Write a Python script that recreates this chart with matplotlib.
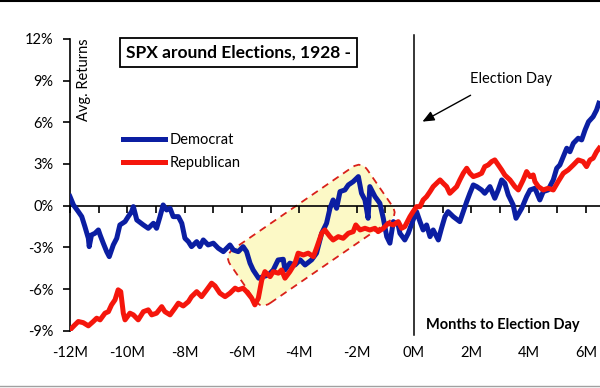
import matplotlib
matplotlib.use("Agg")
import matplotlib.pyplot as plt
import numpy as np
from matplotlib.lines import Line2D
from matplotlib.patches import FancyBboxPatch
from matplotlib.ticker import MultipleLocator
from matplotlib.transforms import Affine2D

plt.rcParams["font.family"] = ["Lato", "DejaVu Sans"]

# average SPX path (%), months relative to election day
dem_months = [
    -12.00, -11.88, -11.71, -11.59, -11.48, -11.36, -11.33, -11.25, -11.13, -11.01,
    -10.95, -10.84, -10.72, -10.63, -10.49, -10.37, -10.26, -10.08, -9.97, -9.85,
    -9.79, -9.67, -9.44, -9.27, -9.09, -8.98, -8.86, -8.75, -8.63, -8.51,
    -8.40, -8.22, -8.10, -7.99, -7.87, -7.76, -7.58, -7.47, -7.35, -7.18,
    -7.00, -6.83, -6.65, -6.42, -6.30, -6.13, -5.96, -5.84, -5.72, -5.61,
    -5.42, -5.26, -5.08, -4.91, -4.74, -4.56, -4.50, -4.33, -4.15, -3.97,
    -3.80, -3.57, -3.40, -3.22, -3.05, -2.93, -2.82, -2.70, -2.58, -2.41,
    -2.29, -2.12, -1.94, -1.83, -1.71, -1.60, -1.54, -1.36, -1.19, -1.07,
    -0.95, -0.84, -0.72, -0.55, -0.49, -0.32, -0.20, -0.03, 0.09, 0.21,
    0.32, 0.44, 0.56, 0.67, 0.85, 0.96, 1.08, 1.19, 1.37, 1.60,
    1.72, 1.84, 1.95, 2.07, 2.19, 2.36, 2.47, 2.65, 2.82, 2.94,
    3.06, 3.17, 3.29, 3.46, 3.56, 3.76, 3.93, 4.05, 4.22, 4.39,
    4.51, 4.68, 4.86, 4.98, 5.09, 5.21, 5.33, 5.44, 5.56, 5.73,
    5.85, 5.97, 6.09, 6.25, 6.37, 6.45,
]
dem_returns = [
    0.65, 0.05, -0.43, -0.79, -1.51, -2.35, -2.95, -2.11, -1.99, -1.75,
    -2.11, -2.70, -3.31, -3.67, -2.83, -2.35, -1.39, -1.15, -0.79, -0.43,
    -0.07, -1.03, -1.39, -1.63, -1.27, -1.63, -0.79, 0.05, -0.31, -0.19,
    -0.79, -0.79, -1.27, -2.35, -2.59, -2.95, -2.59, -2.95, -2.47, -2.83,
    -2.70, -3.06, -3.31, -2.83, -3.19, -3.31, -2.95, -3.31, -4.14, -4.63,
    -5.22, -5.11, -4.99, -4.63, -3.91, -3.86, -4.63, -4.14, -4.27, -3.90,
    -4.27, -3.90, -3.42, -1.99, -1.27, -0.19, 0.41, -0.19, 1.01, 1.13,
    1.49, 1.73, 2.09, 0.89, 0.41, -0.91, 1.37, 0.65, 0.17, -0.91,
    -2.23, -2.70, -1.15, -1.39, -1.99, -2.47, -1.99, -1.03, -0.43, -1.15,
    -1.75, -1.39, -2.23, -1.75, -2.47, -1.63, -0.79, -0.43, -0.79, -1.15,
    -0.43, 0.29, 0.89, 1.49, 1.37, 1.13, 0.89, 1.37, 0.53, 1.13,
    1.85, 1.61, 0.77, 0.05, -0.91, -0.19, 0.65, 1.13, 1.25, 0.41,
    1.01, 1.13, 1.85, 2.69, 2.93, 3.53, 4.13, 3.88, 4.49, 4.85,
    4.73, 5.45, 6.04, 6.40, 6.88, 7.37,
]

rep_months = [
    -12.00, -11.83, -11.71, -11.54, -11.36, -11.19, -11.07, -10.95, -10.78, -10.66,
    -10.55, -10.43, -10.32, -10.23, -10.14, -10.08, -9.91, -9.79, -9.62, -9.44,
    -9.27, -9.15, -8.98, -8.80, -8.69, -8.51, -8.34, -8.22, -8.05, -7.87,
    -7.76, -7.58, -7.41, -7.23, -7.06, -6.94, -6.77, -6.59, -6.42, -6.24,
    -6.13, -5.96, -5.84, -5.66, -5.55, -5.43, -5.31, -5.20, -5.02, -4.91,
    -4.73, -4.62, -4.50, -4.33, -4.15, -4.04, -3.86, -3.69, -3.51, -3.40,
    -3.22, -3.11, -2.93, -2.82, -2.64, -2.47, -2.29, -2.12, -2.03, -1.88,
    -1.71, -1.54, -1.36, -1.25, -1.07, -0.90, -0.72, -0.55, -0.43, -0.32,
    -0.14, -0.03, 0.09, 0.21, 0.32, 0.44, 0.56, 0.67, 0.79, 0.91,
    1.02, 1.14, 1.25, 1.37, 1.49, 1.60, 1.72, 1.84, 1.95, 2.07,
    2.24, 2.36, 2.47, 2.59, 2.71, 2.82, 2.94, 3.06, 3.17, 3.35,
    3.52, 3.64, 3.81, 3.93, 4.05, 4.16, 4.22, 4.34, 4.51, 4.68,
    4.86, 5.03, 5.21, 5.38, 5.56, 5.73, 5.90, 6.02, 6.14, 6.25,
    6.37, 6.46,
]
rep_returns = [
    -8.94, -8.58, -8.34, -8.42, -8.65, -8.34, -8.10, -8.22, -7.74, -7.63,
    -7.14, -6.78, -6.06, -6.19, -7.74, -8.22, -7.74, -7.86, -8.22, -7.63,
    -7.50, -7.86, -7.74, -7.27, -7.63, -7.86, -7.38, -7.02, -7.22, -6.91,
    -6.55, -6.19, -6.55, -6.06, -5.58, -5.78, -6.30, -6.55, -6.30, -5.94,
    -6.06, -5.94, -6.19, -6.66, -7.14, -6.66, -5.35, -4.75, -5.11, -4.75,
    -4.86, -4.63, -5.22, -4.75, -4.14, -3.42, -3.55, -3.42, -3.67, -3.06,
    -1.99, -1.75, -2.23, -2.47, -2.23, -2.35, -1.99, -1.87, -1.39, -1.75,
    -1.63, -1.75, -1.63, -1.87, -1.63, -1.27, -1.39, -1.15, -1.63, -1.51,
    -0.79, -0.43, -0.07, -0.07, 0.41, 0.65, 1.01, 1.37, 1.61, 1.85,
    1.61, 1.37, 0.89, 1.13, 1.37, 1.85, 2.33, 2.69, 2.33, 2.09,
    2.21, 2.33, 2.81, 2.93, 3.17, 3.29, 2.93, 2.57, 2.20, 1.85,
    1.37, 1.13, 1.85, 2.45, 2.09, 2.21, 1.73, 1.37, 1.13, 1.25,
    1.13, 1.73, 2.33, 2.57, 2.93, 3.29, 3.17, 2.81, 3.29, 3.41,
    3.88, 4.13,
]

y_ticks = [-9, -6, -3, 0, 3, 6, 9, 12]
x_label_months = [-12, -10, -8, -6, -4, -2, 0, 2, 4, 6]
x_labels = ["-12M", "-10M", "-8M", "-6M", "-4M", "-2M", "0M", "2M", "4M", "6M"]

# corners of the highlighted run-up: left, top, right, bottom (month, %)
highlight_corners = [(-6.66, -3.40), (-1.82, 3.00), (-0.56, -0.45), (-5.30, -7.65)]
election_arrow_tip = (0.21, 5.95)
election_arrow_tail = (2.06, 8.04)

W, H = 600, 388
fig = plt.figure(figsize=(W / 100, H / 100), dpi=100)
ax = fig.add_axes([70 / W, 57.3 / H, 1 - 70 / W, 291.8 / H])
ax.set_xlim(-12, 6.49)
ax.set_ylim(-9, 12)

blue = "#0b1ea2"
red = "#f5160c"

ax.plot(dem_months, dem_returns, color=blue, lw=3.6, zorder=3)
ax.plot(rep_months, rep_returns, color=red, lw=3.6, zorder=4)

# axes styling
for side in ["top", "right"]:
    ax.spines[side].set_visible(False)
ax.spines["bottom"].set_position(("data", 0))
ax.spines["bottom"].set_linewidth(1.2)
ax.spines["left"].set_linewidth(1.2)
ax.xaxis.set_major_locator(MultipleLocator(1))
ax.tick_params(axis="x", direction="out", length=5, width=1.2, labelbottom=False)
ax.set_yticks(y_ticks)
ax.set_yticklabels([f"{v}%" for v in y_ticks])
ax.tick_params(axis="y", direction="out", length=5, width=1.2, pad=7, labelsize=10.5)

for m, lab in zip(x_label_months, x_labels):
    ax.text(m, -0.075, lab, transform=ax.get_xaxis_transform(),
            ha="center", va="center", fontsize=10.5)

# election day marker
ax.plot([0, 0], [-9.3, 12.3], color="black", lw=1.1, clip_on=False, zorder=2.5)
ax.annotate("", xy=election_arrow_tip, xytext=election_arrow_tail,
            arrowprops=dict(arrowstyle="-|>,head_length=0.7,head_width=0.3",
                            color="black", lw=1.0))
fig.text(511 / W, 1 - 79 / H, "Election Day", ha="center", va="center", fontsize=10.5)

# highlight box, rotated along the run-up
pts = ax.transData.transform(highlight_corners)
L, T, R, B = pts
long_vec = ((T - L) + (R - B)) / 2
short_vec = ((R - T) + (B - L)) / 2
angle = np.arctan2(long_vec[1], long_vec[0])
w = np.hypot(*long_vec)
unit = long_vec / w
h = abs(unit[0] * short_vec[1] - unit[1] * short_vec[0])
center = pts.mean(axis=0)
box = FancyBboxPatch((-w / 2, -h / 2), w, h,
                     boxstyle="round,pad=0,rounding_size=11",
                     transform=Affine2D().rotate(angle).translate(*center),
                     facecolor="#fcf9c6", edgecolor="#d9201a", lw=1.3,
                     linestyle=(0, (4, 3)), zorder=1)
ax.add_artist(box)

# legend
handles = [Line2D([], [], color=blue, lw=3.6), Line2D([], [], color=red, lw=3.6)]
ax.legend(handles, ["Democrat", "Republican"], loc="upper left",
          bbox_to_anchor=(123 / W, 1 - 133 / H), bbox_transform=fig.transFigure,
          frameon=False, fontsize=10.5, handlelength=2.9, handletextpad=0.3,
          labelspacing=0.65, borderpad=0, borderaxespad=0)

# titles and labels
fig.text(238.5 / W, 1 - 52.5 / H, "SPX around Elections, 1928 -", ha="center", va="center",
         fontsize=12.5, fontweight="bold",
         bbox=dict(boxstyle="square,pad=0.35", facecolor="white", edgecolor="black", lw=1.3))
fig.text(84 / W, 1 - 79.5 / H, "Avg. Returns", rotation=90, ha="center", va="center",
         fontsize=10.5)
fig.text(503 / W, 1 - 325 / H, "Months to Election Day", ha="center", va="center",
         fontsize=10.5, fontweight="bold")

# frame lines of the original screenshot
fig.add_artist(Line2D([0, 1], [0.998, 0.998], color="black", lw=1.5, transform=fig.transFigure))
fig.add_artist(Line2D([0, 1], [0.004, 0.004], color="#a0a0a0", lw=1.0, transform=fig.transFigure))

fig.savefig("out.png", dpi=100)
